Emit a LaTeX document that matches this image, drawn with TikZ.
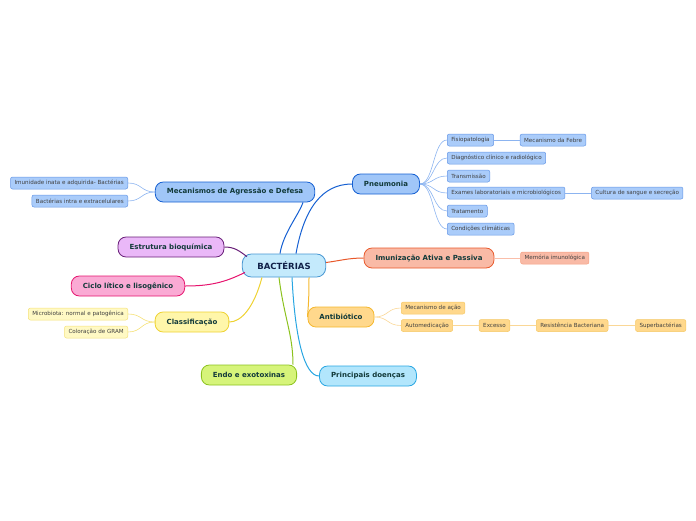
\documentclass[tikz,border=0pt]{standalone}
\usepackage{fontspec}
\setmainfont{DejaVu Sans}
\usepackage{tikz}
\usetikzlibrary{positioning}
\definecolor{MapText}{RGB}{18,58,58}
\definecolor{CoreText}{RGB}{16,32,72}
\definecolor{CoreFill}{RGB}{196,234,252}
\definecolor{CoreLine}{RGB}{70,150,210}
\definecolor{BlueFill}{RGB}{160,198,248}
\definecolor{BlueLine}{RGB}{22,96,210}
\definecolor{BlueSubFill}{RGB}{170,204,250}
\definecolor{BlueSubLine}{RGB}{100,150,230}
\definecolor{BlueLink}{RGB}{140,180,240}
\definecolor{VioletFill}{RGB}{234,184,248}
\definecolor{VioletLine}{RGB}{104,30,120}
\definecolor{PinkFill}{RGB}{250,170,212}
\definecolor{PinkLine}{RGB}{230,20,110}
\definecolor{LemonFill}{RGB}{255,246,170}
\definecolor{LemonLine}{RGB}{238,210,50}
\definecolor{LemonSubFill}{RGB}{255,249,196}
\definecolor{LemonSubLine}{RGB}{245,225,120}
\definecolor{LimeFill}{RGB}{214,244,122}
\definecolor{LimeLine}{RGB}{140,194,30}
\definecolor{SkyFill}{RGB}{178,230,252}
\definecolor{SkyLine}{RGB}{40,166,226}
\definecolor{AmberFill}{RGB}{255,216,140}
\definecolor{AmberLine}{RGB}{245,184,46}
\definecolor{AmberSubLine}{RGB}{245,200,100}
\definecolor{AmberLink}{RGB}{250,215,150}
\definecolor{CoralFill}{RGB}{249,186,166}
\definecolor{CoralLine}{RGB}{232,88,42}
\definecolor{CoralSubLine}{RGB}{245,160,130}
\definecolor{CoralLink}{RGB}{250,190,170}

\begin{document}
\begin{tikzpicture}[
  x=1pt, y=-1pt,
  font=\fontsize{5.6}{6.5}\selectfont,
  corebox/.style={draw=CoreLine, fill=CoreFill, rounded corners=9pt, minimum height=23pt, inner xsep=15pt, inner ysep=2pt, line width=0.8pt, font=\fontsize{8.5}{9.5}\selectfont\bfseries, text=CoreText},
  mainbox/.style={draw, rounded corners=8pt, minimum height=20pt, inner xsep=11.5pt, inner ysep=2pt, line width=0.8pt, font=\fontsize{7}{8}\selectfont\bfseries, text=MapText},
  subbox/.style={draw, rounded corners=2pt, minimum height=12pt, inner xsep=4pt, inner ysep=1pt, line width=0.5pt, text=black!75},
  bluebox/.style={mainbox, draw=BlueLine, fill=BlueFill},
  bluesub/.style={subbox, draw=BlueSubLine, fill=BlueSubFill},
  violetbox/.style={mainbox, draw=VioletLine, fill=VioletFill},
  pinkbox/.style={mainbox, draw=PinkLine, fill=PinkFill},
  lemonbox/.style={mainbox, draw=LemonLine, fill=LemonFill},
  lemonsub/.style={subbox, draw=LemonSubLine, fill=LemonSubFill},
  limebox/.style={mainbox, draw=LimeLine, fill=LimeFill},
  skybox/.style={mainbox, draw=SkyLine, fill=SkyFill},
  amberbox/.style={mainbox, draw=AmberLine, fill=AmberFill},
  ambersub/.style={subbox, draw=AmberSubLine, fill=AmberFill},
  coralbox/.style={mainbox, draw=CoralLine, fill=CoralFill},
  coralsub/.style={subbox, draw=CoralSubLine, fill=CoralFill},
  branch/.style={line width=1pt},
  twig/.style={line width=0.6pt}
]
\useasboundingbox (0,0) rectangle (696,520);

% centre and main branches
\node[corebox] (core) at (284,265.5) {BACTÉRIAS};
\node[bluebox] (mec) at (235,192) {Mecanismos de Agressão e Defesa};
\node[bluebox] (pneu) at (386,184) {Pneumonia};
\node[violetbox] (estr) at (171,247) {Estrutura bioquímica};
\node[pinkbox] (ciclo) at (128,286) {Ciclo lítico e lisogênico};
\node[lemonbox] (class) at (192,322) {Classificação};
\node[limebox] (endo) at (249,375) {Endo e exotoxinas};
\node[skybox] (doen) at (368,376) {Principais doenças};
\node[amberbox] (atb) at (341,317) {Antibiótico};
\node[coralbox] (imun) at (429,258) {Imunização Ativa e Passiva};

% pneumonia
\node[bluesub, anchor=west] (fisio) at (447,140) {Fisiopatologia};
\node[bluesub, right=26pt of fisio] (febre) {Mecanismo da Febre};
\node[bluesub, anchor=west] (diag) at (447,158) {Diagnóstico clínico e radiológico};
\node[bluesub, anchor=west] (trans) at (447,176) {Transmissão};
\node[bluesub, anchor=west] (exam) at (447,193) {Exames laboratoriais e microbiológicos};
\node[bluesub, right=26pt of exam] (cult) {Cultura de sangue e secreção};
\node[bluesub, anchor=west] (trat) at (447,211) {Tratamento};
\node[bluesub, anchor=west] (clim) at (447,229) {Condições climáticas};

% mecanismos
\node[bluesub, anchor=east] (inata) at (128,183) {Imunidade inata e adquirida- Bactérias};
\node[bluesub, anchor=east] (intra) at (128,201) {Bactérias intra e extracelulares};

% classificacao
\node[lemonsub, anchor=east] (micro) at (128,314) {Microbiota: normal e patogênica};
\node[lemonsub, anchor=east] (gram) at (128,332) {Coloração de GRAM};

% imunizacao
\node[coralsub, right=26pt of imun] (memo) {Memória imunológica};

% antibiotico
\node[ambersub, anchor=west] (acao) at (401,308) {Mecanismo de ação};
\node[ambersub, anchor=west] (auto) at (401,325.5) {Automedicação};
\node[ambersub, right=26pt of auto] (exc) {Excesso};
\node[ambersub, right=26pt of exc] (resist) {Resistência Bacteriana};
\node[ambersub, right=27pt of resist] (super) {Superbactérias};

% main connectors
\draw[branch, BlueLine] ([xshift=-4pt]core.north) .. controls +(3,-20) and +(-4,12) .. ([xshift=68pt]mec.south);
\draw[branch, BlueLine] ([xshift=12pt]core.north) .. controls +(8,-45) and +(-30,0) .. (pneu.west);
\draw[branch, VioletLine] ([xshift=5pt,yshift=-3pt]core.north west) .. controls +(-8,-6) and +(10,0) .. (estr.east);
\draw[branch, PinkLine] ([xshift=3pt,yshift=5pt]core.south west) .. controls +(-20,10) and +(25,0) .. (ciclo.east);
\draw[branch, LemonLine] ([xshift=-22pt]core.south) .. controls +(-8,30) and +(12,0) .. (class.east);
\draw[branch, LimeLine] ([xshift=-5pt]core.south) .. controls +(5,40) and +(0,-30) .. ([xshift=44pt]endo.north);
\draw[branch, SkyLine] ([xshift=8pt]core.south) .. controls +(3,60) and +(-15,0) .. (doen.west);
\draw[branch, AmberLine] ([xshift=25pt]core.south) .. controls +(0,30) and +(0,-6) .. (atb.west);
\draw[branch, CoralLine] ([yshift=3pt]core.east) .. controls +(15,-2) and +(-15,0) .. (imun.west);

% sub connectors
\foreach \kid in {fisio, diag, trans, exam, trat, clim}
  \draw[twig, BlueLink] (pneu.east) .. controls +(14,0) and +(-14,0) .. (\kid.west);
\draw[twig, BlueLink] (fisio) -- (febre);
\draw[twig, BlueLink] (exam) -- (cult);
\foreach \kid in {inata, intra}
  \draw[twig, BlueLink] (mec.west) .. controls +(-14,0) and +(14,0) .. (\kid.east);
\foreach \kid in {micro, gram}
  \draw[twig, LemonSubLine] (class.west) .. controls +(-14,0) and +(14,0) .. (\kid.east);
\draw[twig, CoralLink] (imun) -- (memo);
\foreach \kid in {acao, auto}
  \draw[twig, AmberLink] (atb.east) .. controls +(14,0) and +(-14,0) .. (\kid.west);
\draw[twig, AmberLink] (auto) -- (exc);
\draw[twig, AmberLink] (exc) -- (resist);
\draw[twig, AmberLink] (resist) -- (super);
\end{tikzpicture}
\end{document}
